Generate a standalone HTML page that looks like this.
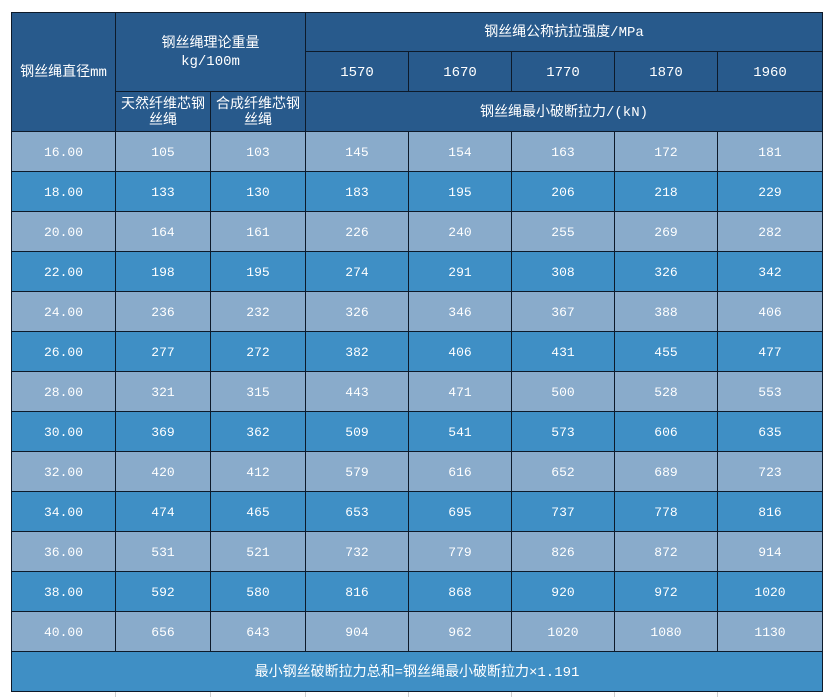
<!DOCTYPE html>
<html><head><meta charset="utf-8"><style>
html,body{margin:0;padding:0;background:#fff;width:825px;height:697px;overflow:hidden}
table{position:absolute;left:11px;top:12px;border-collapse:collapse;table-layout:fixed;font-family:"Liberation Mono","Noto Sans CJK SC",monospace;font-size:13px;color:#fff}
td{border:1px solid #0d1a2a;text-align:center;vertical-align:middle;padding:2px 0 0 0;height:37px;line-height:16px;overflow:hidden}
.h{background:#285a8c;font-size:14px}
.a td{background:#89abcb}
.b td{background:#3f8fc5}
.f{background:#3f8fc5;font-size:14px}
.g{position:absolute;top:692px;width:1px;height:5px;background:#d0d0d0}
</style></head><body>
<table>
<colgroup><col style="width:104px"><col style="width:95px"><col style="width:95px"><col style="width:103px"><col style="width:103px"><col style="width:103px"><col style="width:103px"><col style="width:105px"></colgroup>
<tr><td class="h" rowspan="3">钢丝绳直径mm</td><td class="h" colspan="2" rowspan="2" style="line-height:18px">钢丝绳理论重量<br>kg/100m</td><td class="h" colspan="5" style="height:36px">钢丝绳公称抗拉强度/MPa</td></tr>
<tr><td class="h">1570</td><td class="h">1670</td><td class="h">1770</td><td class="h">1870</td><td class="h">1960</td></tr>
<tr><td class="h">天然纤维芯钢丝绳</td><td class="h">合成纤维芯钢丝绳</td><td class="h" colspan="5">钢丝绳最小破断拉力/(kN)</td></tr>
<tr class="a"><td>16.00</td><td>105</td><td>103</td><td>145</td><td>154</td><td>163</td><td>172</td><td>181</td></tr>
<tr class="b"><td>18.00</td><td>133</td><td>130</td><td>183</td><td>195</td><td>206</td><td>218</td><td>229</td></tr>
<tr class="a"><td>20.00</td><td>164</td><td>161</td><td>226</td><td>240</td><td>255</td><td>269</td><td>282</td></tr>
<tr class="b"><td>22.00</td><td>198</td><td>195</td><td>274</td><td>291</td><td>308</td><td>326</td><td>342</td></tr>
<tr class="a"><td>24.00</td><td>236</td><td>232</td><td>326</td><td>346</td><td>367</td><td>388</td><td>406</td></tr>
<tr class="b"><td>26.00</td><td>277</td><td>272</td><td>382</td><td>406</td><td>431</td><td>455</td><td>477</td></tr>
<tr class="a"><td>28.00</td><td>321</td><td>315</td><td>443</td><td>471</td><td>500</td><td>528</td><td>553</td></tr>
<tr class="b"><td>30.00</td><td>369</td><td>362</td><td>509</td><td>541</td><td>573</td><td>606</td><td>635</td></tr>
<tr class="a"><td>32.00</td><td>420</td><td>412</td><td>579</td><td>616</td><td>652</td><td>689</td><td>723</td></tr>
<tr class="b"><td>34.00</td><td>474</td><td>465</td><td>653</td><td>695</td><td>737</td><td>778</td><td>816</td></tr>
<tr class="a"><td>36.00</td><td>531</td><td>521</td><td>732</td><td>779</td><td>826</td><td>872</td><td>914</td></tr>
<tr class="b"><td>38.00</td><td>592</td><td>580</td><td>816</td><td>868</td><td>920</td><td>972</td><td>1020</td></tr>
<tr class="a"><td>40.00</td><td>656</td><td>643</td><td>904</td><td>962</td><td>1020</td><td>1080</td><td>1130</td></tr>
<tr><td class="f" colspan="8">最小钢丝破断拉力总和=钢丝绳最小破断拉力×1.191</td></tr>
</table>
<div class="g" style="left:115px"></div><div class="g" style="left:210px"></div><div class="g" style="left:305px"></div><div class="g" style="left:408px"></div><div class="g" style="left:511px"></div><div class="g" style="left:614px"></div><div class="g" style="left:717px"></div>
</body></html>
